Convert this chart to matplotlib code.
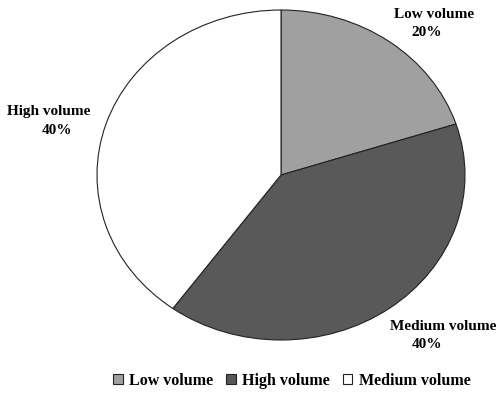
import matplotlib.pyplot as plt
import numpy as np

plt.rcParams['font.family'] = ['Liberation Serif', 'DejaVu Serif']
plt.rcParams['font.weight'] = 'bold'

shares = [20, 40, 40]
slice_labels = ['Low volume', 'Medium volume', 'High volume']
legend_labels = ['Low volume', 'High volume', 'Medium volume']
colors = ['#a0a0a0', '#595959', '#ffffff']

fig = plt.figure(figsize=(5.03, 3.93), dpi=100)
W, H = 503, 393
ax = fig.add_axes([97 / W, (H - 340) / H, 368 / W, 330 / H])

wedges, _ = ax.pie(shares, colors=colors, startangle=90, counterclock=False,
                   wedgeprops=dict(edgecolor='#222222', linewidth=0.8))
ax.set_aspect('auto')
ax.set_xlim(-1, 1)
ax.set_ylim(-1, 1)

# name and percentage are placed separately (pixel centres, from top-left)
name_pos = [(434, 14), (443, 326), (49, 112)]
pct_pos = [(427, 32), (427, 344), (57, 131)]
for (nx, ny), (px, py), name, val in zip(name_pos, pct_pos, slice_labels, shares):
    fig.text(nx / W, 1 - ny / H, name, ha='center', va='center',
             fontsize=11, fontweight='bold')
    fig.text(px / W, 1 - py / H, f'{val}%', ha='center', va='center',
             fontsize=11, fontweight='bold')

fig.legend(wedges, legend_labels, loc='center', bbox_to_anchor=(292 / W, 1 - 381 / H),
           ncol=3, frameon=False, fontsize=11.5, handlelength=0.6, handleheight=0.6,
           handletextpad=0.4, columnspacing=0.8)

fig.savefig('out.png', dpi=100)
